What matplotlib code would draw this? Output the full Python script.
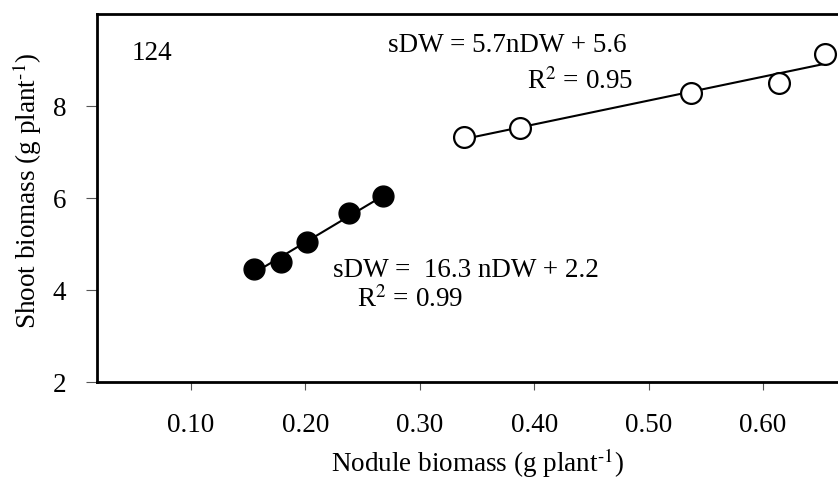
import numpy as np
import matplotlib
matplotlib.use("Agg")
import matplotlib.pyplot as plt

plt.rcParams['font.family'] = ['Liberation Serif', 'DejaVu Serif']
plt.rcParams['mathtext.fontset'] = 'stix'

# filled circles (low nodule group)
x_filled = [0.155, 0.179, 0.201, 0.238, 0.268]
y_filled = [4.46, 4.61, 5.04, 5.67, 6.04]
# open circles (high nodule group)
x_open = [0.339, 0.388, 0.537, 0.614, 0.654]
y_open = [7.33, 7.54, 8.30, 8.50, 9.13]

xticks = [0.10, 0.20, 0.30, 0.40, 0.50, 0.60]
xticklabels = ['0.10', '0.20', '0.30', '0.40', '0.50', '0.60']
yticks = [2, 4, 6, 8]

W, H = 838, 486
fig = plt.figure(figsize=(W / 100, H / 100), dpi=100)
# right edge of the axes sits on the picture border (chart is cut there)
ax = fig.add_axes([97 / W, (H - 382) / H, (W - 97) / W, (382 - 14.5) / H])

fs = 19.5

# trendlines
for xs, ys in [(x_filled, y_filled), (x_open, y_open)]:
    fit = np.polyfit(xs, ys, 1)
    fit_fn = np.poly1d(fit)
    xx = np.array([min(xs), max(xs)])
    ax.plot(xx, fit_fn(xx), color='black', lw=1.5, zorder=2)

ax.plot(x_filled, y_filled, 'o', ms=15, color='black', zorder=3)
ax.plot(x_open, y_open, 'o', ms=15, mfc='white', mec='black', mew=1.6, zorder=3,
        clip_on=False)

ax.set_xlim(0.0178, 0.6656)
ax.set_ylim(2, 10)
ax.set_xticks(xticks)
ax.set_xticklabels(xticklabels)
ax.set_yticks(yticks)
ax.tick_params(axis='x', direction='out', length=6, width=0.8, color='#555555',
               labelsize=fs, pad=16)
ax.tick_params(axis='y', direction='out', length=8, width=0.8, color='#555555',
               labelsize=fs, pad=14)
for s in ['left', 'bottom', 'top']:
    ax.spines[s].set_linewidth(2)
ax.spines['right'].set_visible(False)

def ftext(x, y, s, **kw):
    fig.text(x / W, 1 - y / H, s, fontsize=fs, **kw)

ftext(132, 53, '124', va='center')
ftext(388, 45, 'sDW = 5.7nDW + 5.6', va='center')
ftext(527, 82, 'R$^2$ = 0.95', va='center')
ftext(333, 270, 'sDW =  16.3 nDW + 2.2', va='center')
ftext(357, 300, 'R$^2$ = 0.99', va='center')
ftext(27, 191, 'Shoot biomass (g plant$^{\\text{-1}}$)', rotation=90,
      ha='center', va='center')
ftext(478, 463, 'Nodule biomass (g plant$^{\\text{-1}}$)', ha='center', va='center')

fig.savefig('out.png', dpi=100)
